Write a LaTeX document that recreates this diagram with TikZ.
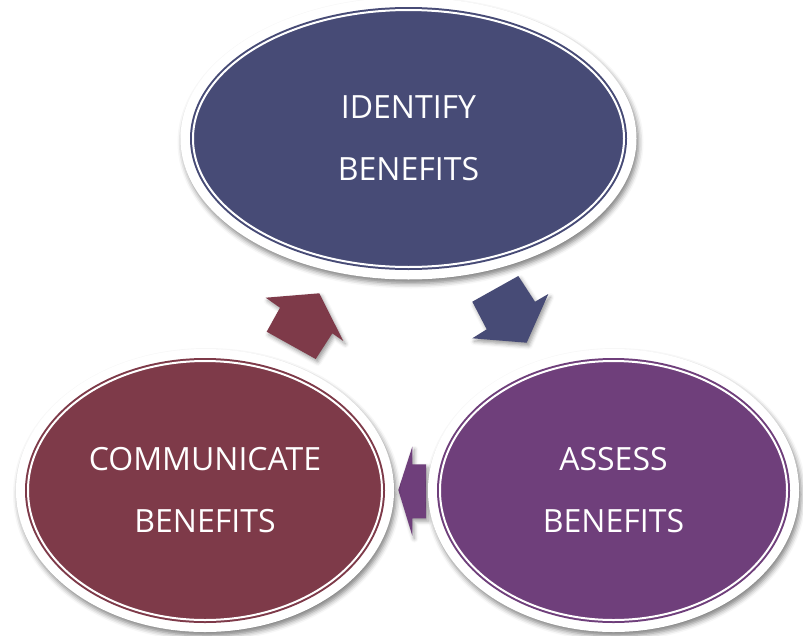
\documentclass[tikz,border=0pt]{standalone}
\usepackage{fontspec}
\setmainfont{Open Sans}
\usetikzlibrary{shapes.geometric}
\usetikzlibrary{shadows.blur}
\definecolor{identblue}{RGB}{71,75,118}
\definecolor{commred}{RGB}{126,58,73}
\definecolor{assesspurple}{RGB}{111,63,123}
\tikzstyle{halo}=[fill=white,blur shadow={shadow xshift=2pt,shadow yshift=-4pt,shadow blur radius=5pt,shadow opacity=50}]

\begin{document}
\begin{tikzpicture}[
  x=1pt,y=-1pt,
  bubble/.style={ellipse,inner sep=0pt,fill=#1,draw=#1,double=white,double distance=2pt,line width=2pt,
    text=white,align=center,font=\fontsize{32}{62}\selectfont},
  block/.style={fill=#1,blur shadow={shadow xshift=2pt,shadow yshift=-3pt,shadow blur radius=4pt,shadow opacity=40}},
]
\useasboundingbox (0,0) rectangle (803,635);
\coordinate (top) at (408.5,138.5);
\coordinate (lft) at (205,490.5);
\coordinate (rgt) at (613.5,490.5);

% arrows between the steps
\path[block=commred] (265.7,297.7) -- (319.3,293.3) -- (343.3,341) -- (332.3,333.3)
  -- (315.7,359) -- (266.7,331.7) -- (280,307.7) -- cycle;
\path[block=identblue] (518.3,276) -- (535,301.7) -- (548.3,294) -- (526.7,342.7)
  -- (472.3,338.3) -- (486.7,329.3) -- (472.3,301.7) -- cycle;
\path[block=assesspurple] (398.3,490) -- (412.3,446.7) -- (412.3,464.3) -- (426,464.3)
  -- (426,518.3) -- (412.3,518.3) -- (412.3,535.7) -- cycle;

% white rings
\path[halo] (top) ellipse [x radius=228, y radius=141];
\path[halo] (lft) ellipse [x radius=189, y radius=141.5];
\path[halo] (rgt) ellipse [x radius=185.5, y radius=141.5];

\node[bubble=identblue,minimum width=431pt,minimum height=257pt] (identify) at (top) {IDENTIFY\\BENEFITS};
\node[bubble=commred,minimum width=354pt,minimum height=259pt] (communicate) at (lft) {COMMUNICATE\\BENEFITS};
\node[bubble=assesspurple,minimum width=347pt,minimum height=259pt] (assess) at (rgt) {ASSESS\\BENEFITS};
\end{tikzpicture}
\end{document}
